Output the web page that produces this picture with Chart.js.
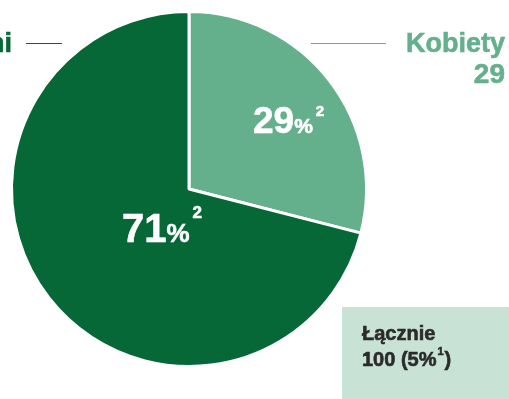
<!DOCTYPE html>
<html>
<head>
<meta charset="utf-8">
<script src="https://cdn.jsdelivr.net/npm/chart.js@4"></script>
<style>
  html, body { margin: 0; padding: 0; background: #fff; }
  .wrap { width: 509px; height: 399px; position: relative; }
</style>
</head>
<body>
<div class="wrap"><canvas id="myChart"></canvas></div>
<script>
// Data
const categories = ['Kobiety', 'Mężczyźni'];
const values = [29, 71];
const sliceColors = ['#65b08c', '#066837'];
const totalTitle = 'Łącznie';
const totalValue = '100 (5%';
const totalNote = '1';
const pctNote = '2';

const FONT = '"Liberation Sans", Arial, sans-serif';

// bold text with a hairline stroke so it reads a bit heavier
function heavyText(ctx, text, x, y) {
    ctx.lineWidth = 0.6;
    ctx.strokeStyle = ctx.fillStyle;
    ctx.strokeText(text, x, y);
    ctx.fillText(text, x, y);
}

function drawPercent(ctx, x, baseline, num, big, mid, sup, supRise) {
    ctx.textAlign = 'left';
    ctx.textBaseline = 'alphabetic';
    ctx.font = 'bold ' + big + 'px ' + FONT;
    heavyText(ctx, num, x, baseline);
    x += ctx.measureText(num).width;
    ctx.font = 'bold ' + mid + 'px ' + FONT;
    heavyText(ctx, '%', x, baseline);
    x += ctx.measureText('%').width + 3;
    ctx.font = 'bold ' + sup + 'px ' + FONT;
    heavyText(ctx, pctNote, x, baseline - supRise);
}

// labels, callout lines and the total box
const extras = {
    id: 'extras',
    afterDraw(chart) {
        const ctx = chart.ctx;
        const arcs = chart.getDatasetMeta(0).data;
        const cx = arcs[0].x, cy = arcs[0].y;
        ctx.save();

        // values inside the slices
        ctx.fillStyle = '#ffffff';
        drawPercent(ctx, cx + 64, cy - 56, String(values[0]), 37, 21, 15, 17);
        drawPercent(ctx, cx - 67, cy + 53, String(values[1]), 40, 26, 17, 24);

        // right callout
        ctx.strokeStyle = sliceColors[0];
        ctx.lineWidth = 1;
        ctx.beginPath();
        ctx.moveTo(311, 43.5);
        ctx.lineTo(386, 43.5);
        ctx.stroke();
        ctx.fillStyle = sliceColors[0];
        ctx.textAlign = 'right';
        ctx.font = 'bold 27px ' + FONT;
        heavyText(ctx, categories[0], 505, 52);
        ctx.font = 'bold 28px ' + FONT;
        heavyText(ctx, String(values[0]), 505, 83);

        // left callout
        ctx.strokeStyle = sliceColors[1];
        ctx.lineWidth = 1;
        ctx.beginPath();
        ctx.moveTo(26, 43.5);
        ctx.lineTo(62, 43.5);
        ctx.stroke();
        ctx.fillStyle = sliceColors[1];
        ctx.font = 'bold 27px ' + FONT;
        heavyText(ctx, categories[1], 12, 52);

        // total box
        ctx.fillStyle = '#c9e2d6';
        ctx.fillRect(342, 307, 167, 92);
        ctx.fillStyle = '#2b2b2b';
        ctx.textAlign = 'left';
        ctx.font = 'bold 20px ' + FONT;
        heavyText(ctx, totalTitle, 362, 340);
        heavyText(ctx, totalValue, 362, 366);
        let w = ctx.measureText(totalValue).width;
        ctx.font = 'bold 11px ' + FONT;
        heavyText(ctx, totalNote, 362 + w + 1, 355);
        let w2 = ctx.measureText(totalNote).width;
        ctx.font = 'bold 20px ' + FONT;
        heavyText(ctx, ')', 362 + w + w2 + 2, 366);

        ctx.restore();
    }
};

const ctx = document.getElementById('myChart').getContext('2d');
const myChart = new Chart(ctx, {
    type: 'pie',
    data: {
        labels: categories,
        datasets: [{
            data: values,
            backgroundColor: sliceColors,
            borderColor: '#ffffff',
            borderWidth: 3
        }]
    },
    options: {
        responsive: true,
        maintainAspectRatio: false,
        animation: false,
        layout: {
            padding: { left: 10, top: 10, right: 141, bottom: 31 }
        },
        plugins: {
            legend: { display: false },
            tooltip: { enabled: false }
        }
    },
    plugins: [extras]
});
</script>
</body>
</html>
